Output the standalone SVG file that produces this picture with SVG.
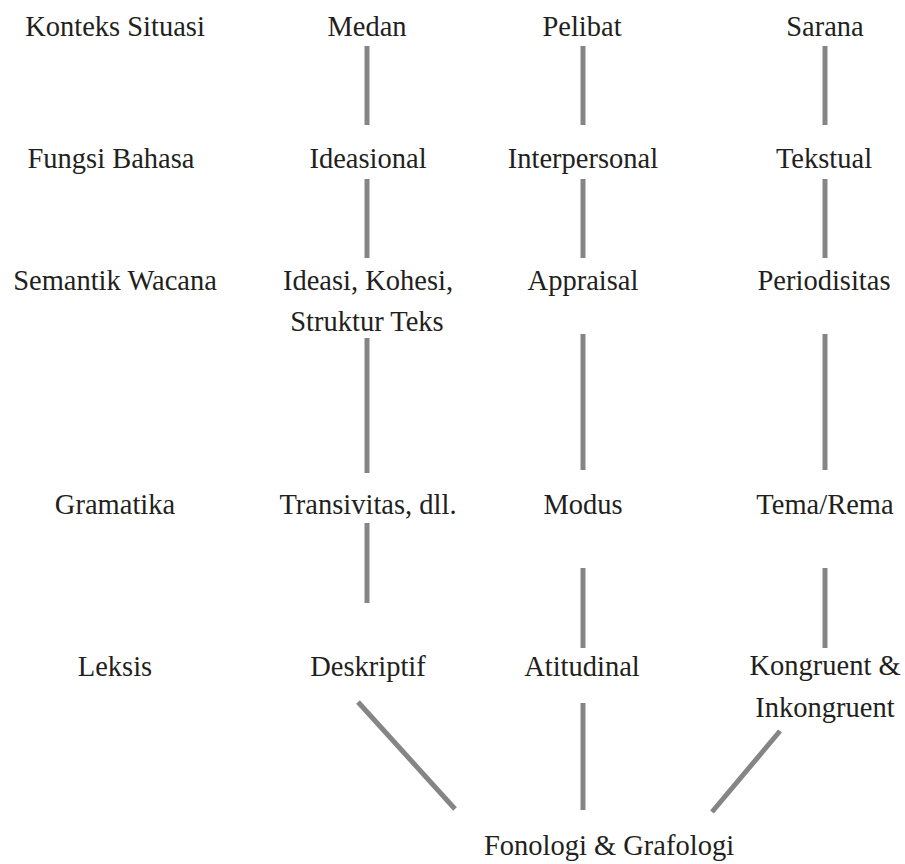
<svg xmlns="http://www.w3.org/2000/svg" width="905" height="864" viewBox="0 0 905 864">
<style>
text{font-family:"Liberation Serif","DejaVu Serif",serif;font-size:28.5px;fill:#231f20;text-anchor:middle}
.c line{stroke:#858585;stroke-width:5}
</style>
<rect width="905" height="864" fill="#fff"/>
<g id="labels">
<text x="115" y="36">Konteks Situasi</text>
<text x="111" y="168">Fungsi Bahasa</text>
<text x="115" y="290">Semantik Wacana</text>
<text x="115" y="514">Gramatika</text>
<text x="115" y="676">Leksis</text>
</g>
<g id="medan"><text x="367" y="36">Medan</text></g>
<g id="pelibat"><text x="582" y="36">Pelibat</text></g>
<g id="sarana"><text x="825" y="36">Sarana</text></g>
<g id="ideasional"><text x="368" y="168">Ideasional</text></g>
<g id="interpersonal"><text x="583" y="168">Interpersonal</text></g>
<g id="tekstual"><text x="824" y="168">Tekstual</text></g>
<g id="ideasi"><text x="368" y="290">Ideasi, Kohesi,</text><text x="367" y="331">Struktur Teks</text></g>
<g id="appraisal"><text x="583" y="290">Appraisal</text></g>
<g id="periodisitas"><text x="824" y="290">Periodisitas</text></g>
<g id="transivitas"><text x="368" y="514">Transivitas, dll.</text></g>
<g id="modus"><text x="583" y="514">Modus</text></g>
<g id="tema"><text x="825" y="514">Tema/Rema</text></g>
<g id="deskriptif"><text x="368" y="676">Deskriptif</text></g>
<g id="atitudinal"><text x="582" y="676">Atitudinal</text></g>
<g id="kongruent"><text x="825" y="675">Kongruent &amp;</text><text x="825" y="717">Inkongruent</text></g>
<g id="fonologi"><text x="609" y="855">Fonologi &amp; Grafologi</text></g>
<g class="c" id="connectors">
<line x1="367" y1="46" x2="367" y2="125"/>
<line x1="583" y1="46" x2="583" y2="125"/>
<line x1="825" y1="46" x2="825" y2="125"/>
<line x1="367" y1="179" x2="367" y2="258"/>
<line x1="583" y1="179" x2="583" y2="258"/>
<line x1="825" y1="179" x2="825" y2="258"/>
<line x1="367" y1="338" x2="367" y2="473"/>
<line x1="583" y1="334" x2="583" y2="470"/>
<line x1="825" y1="334" x2="825" y2="470"/>
<line x1="367" y1="523" x2="367" y2="603"/>
<line x1="583" y1="568" x2="583" y2="648"/>
<line x1="825" y1="568" x2="825" y2="648"/>
<line x1="358" y1="702" x2="455" y2="809"/>
<line x1="583" y1="703" x2="583" y2="810"/>
<line x1="780" y1="731" x2="712" y2="812"/>
</g>
</svg>
